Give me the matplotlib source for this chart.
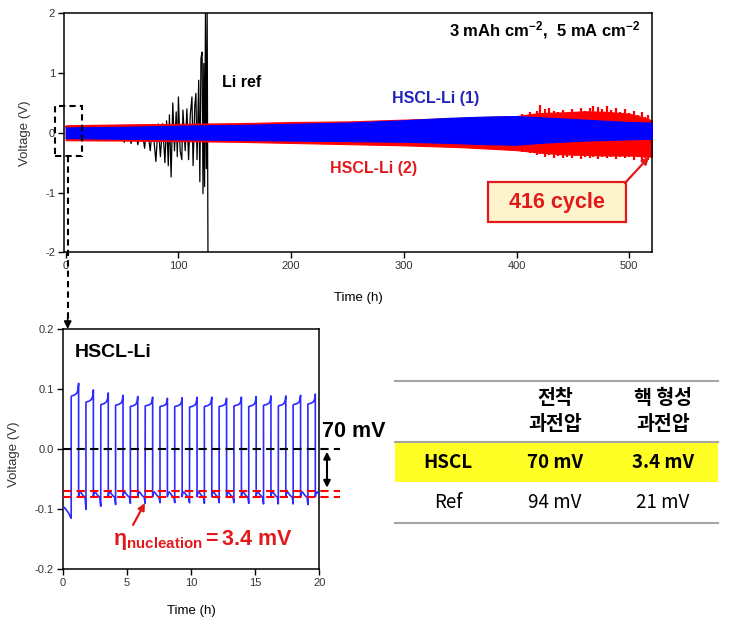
import matplotlib
matplotlib.use("Agg")
import matplotlib.pyplot as plt
from matplotlib.patches import Rectangle
from matplotlib.ticker import FormatStrFormatter

plt.rcParams["font.family"] = ["Liberation Sans", "DejaVu Sans"]
plt.rcParams["axes.unicode_minus"] = False
plt.rcParams["mathtext.fontset"] = "custom"
plt.rcParams["mathtext.rm"] = "Liberation Sans"
plt.rcParams["mathtext.bf"] = "Liberation Sans:bold"
plt.rcParams["mathtext.it"] = "Liberation Sans:italic"

RED = "#ff0000"
BLUE = "#0000ff"
TXT_RED = "#e31a1c"

# ---- long cycling: envelopes of the dense cycling traces ----
blue_t = [0, 50, 100, 150, 200, 250, 300, 340, 370, 400, 420, 440, 460, 480, 500, 520]
blue_up = [0.09, 0.10, 0.12, 0.13, 0.15, 0.17, 0.21, 0.25, 0.27, 0.28, 0.26, 0.24, 0.22, 0.20, 0.18, 0.17]
blue_lo = [-0.09, -0.10, -0.11, -0.12, -0.13, -0.14, -0.15, -0.17, -0.19, -0.20, -0.17, -0.15, -0.13, -0.12, -0.11, -0.10]

red_t = [0, 50, 100, 150, 200, 250, 300, 350, 380, 400, 420, 440, 460, 480, 500, 510, 520]
red_up = [0.125, 0.14, 0.15, 0.16, 0.18, 0.19, 0.22, 0.25, 0.27, 0.28, 0.33, 0.34, 0.36, 0.35, 0.32, 0.27, 0.21]
red_lo = [-0.125, -0.13, -0.14, -0.15, -0.17, -0.19, -0.21, -0.24, -0.27, -0.29, -0.33, -0.36, -0.37, -0.38, -0.38, -0.39, -0.40]

# individual red spikes at the end of the run
spk_t = [405, 412, 418, 421, 425, 429, 433, 437, 441, 445, 449, 453, 457, 461, 465, 468,
         472, 476, 480, 484, 488, 492, 496, 500, 504, 508, 511, 514, 517]
spk_up = [0.32, 0.34, 0.36, 0.46, 0.40, 0.42, 0.36, 0.34, 0.38, 0.33, 0.40, 0.35, 0.41, 0.37, 0.42,
          0.44, 0.43, 0.40, 0.44, 0.38, 0.41, 0.35, 0.40, 0.33, 0.37, 0.30, 0.35, 0.27, 0.30]
spk_lo = [-0.32, -0.34, -0.37, -0.36, -0.40, -0.38, -0.42, -0.39, -0.43, -0.40, -0.42, -0.39, -0.44,
          -0.40, -0.43, -0.41, -0.44, -0.40, -0.43, -0.41, -0.44, -0.40, -0.43, -0.41, -0.45, -0.40,
          -0.46, -0.42, -0.45]

# Li ref trace (peaks)
li_t = [0, 10, 20, 30, 40, 45, 48, 52, 55, 58, 61, 64, 67, 70, 72, 75, 77, 80, 82, 84,
        86, 88, 89.5, 91, 92, 93.5, 95, 96.5, 98, 99, 100, 101.5, 103, 104, 106, 107.5,
        109, 110.5, 112, 113, 114.5, 115.5, 116.5, 118, 119, 120, 121, 121.8, 122.5,
        123.2, 124, 124.8, 125.5, 126.2]
li_v = [0.1, -0.1, 0.1, -0.1, 0.12, -0.13, 0.12, -0.16, 0.12, -0.18, 0.12, -0.2, 0.13, -0.26,
        0.13, -0.3, 0.14, -0.48, 0.15, -0.4, 0.15, -0.5, 0.2, -0.55, 0.3, -0.74, 0.5, -0.3,
        0.35, -0.4, 0.6, -0.3, -0.45, 0.38, -0.3, 0.4, -0.45, 0.3, 0.6, -0.55, 0.45, 0.66,
        -0.45, 0.88, -0.82, 1.25, 1.35, -1.02, 1.16, -0.9, 2.0, -0.6, 2.0, -2.0]

# ---- first 20 h of HSCL-Li ----
cyc_t = [0.66, 1.81, 2.97, 4.12, 5.27, 6.43, 7.58, 8.73, 9.89, 11.04, 12.19, 13.35,
         14.50, 15.65, 16.81, 17.96, 19.11]
up_start = [0.088, 0.078, 0.074, 0.073, 0.071, 0.072, 0.071, 0.071, 0.070, 0.071, 0.071,
            0.072, 0.071, 0.073, 0.072, 0.074, 0.075]
up_end = [0.110, 0.099, 0.094, 0.090, 0.088, 0.087, 0.085, 0.086, 0.087, 0.087, 0.085,
          0.087, 0.088, 0.089, 0.089, 0.090, 0.092]
dn_end = [-0.100, -0.095, -0.092, -0.090, -0.090, -0.089, -0.089, -0.089, -0.090, -0.089,
          -0.089, -0.090, -0.091, -0.091, -0.091, -0.092, -0.088]
first_t = [0.0, 0.15, 0.45, 0.66]
first_v = [-0.100, -0.097, -0.106, -0.115]
up_frac = [0.0, 0.08, 0.4, 0.75, 0.9, 1.0]
up_shape = [0.0, 0.05, 0.1, 0.25, 0.5, 1.0]
dn_frac = [0.0, 0.05, 0.25, 0.6, 0.88]
dn_shape = [-0.079, -0.074, -0.071, -0.077, -0.080]
half = 0.58
period = 1.153

nuc_lines = [-0.069, -0.079]

# table
tab_head1 = ["", "전착", "핵 형성"]
tab_head2 = ["", "과전압", "과전압"]
tab_rows = [["HSCL", "70 mV", "3.4 mV"], ["Ref", "94 mV", "21 mV"]]

fig = plt.figure(figsize=(7.31, 6.32), dpi=100)

# ================= top panel =================
ax1 = fig.add_axes([0.0876, 0.6008, 0.8048, 0.3782])
ax1.plot(li_t, li_v, color="black", lw=0.9, zorder=1)
ax1.fill_between(red_t, red_lo, red_up, color=RED, lw=0.8, zorder=2)
ax1.vlines(spk_t, spk_lo, spk_up, color=RED, lw=1.6, zorder=2)
ax1.fill_between(blue_t, blue_lo, blue_up, color=BLUE, lw=0.8, zorder=3)
ax1.set_xlim(-1.5, 520.5)
ax1.set_ylim(-2, 2)
ax1.set_xticks([0, 100, 200, 300, 400, 500])
ax1.set_yticks([-2, -1, 0, 1, 2])
ax1.set_xlabel("Time (h)", fontsize=9.5)
ax1.set_ylabel("Voltage (V)", fontsize=9.5, color="#333333")
ax1.xaxis.set_label_coords(0.5, -0.165)
ax1.yaxis.set_label_coords(-0.056, 0.5)

ax1.text(138.6, 0.845, "Li ref", fontsize=11.5, fontweight="bold", va="center")
ax1.text(289.5, 0.577, "HSCL-Li (1)", fontsize=11.5, fontweight="bold", color="#2222bb", va="center")
ax1.text(234.4, -0.594, "HSCL-Li (2)", fontsize=11.5, fontweight="bold", color=TXT_RED, va="center")
ax1.text(509.5, 1.72, r"3 mAh cm$^{\mathbf{-2}}$,  5 mA cm$^{\mathbf{-2}}$", fontsize=12,
         fontweight="bold", ha="right", va="center")

ax1.add_patch(Rectangle((0.721, 0.1255), 0.235, 0.1675, transform=ax1.transAxes,
                        facecolor="#fdf3cc", edgecolor=TXT_RED, lw=1.6, zorder=5))
ax1.text(0.8385, 0.209, "416 cycle", transform=ax1.transAxes, fontsize=15.5,
         fontweight="bold", color=TXT_RED, ha="center", va="center", zorder=6)

ax1.add_patch(Rectangle((-9.6, -0.39), 23.7, 0.83, fill=False, edgecolor="black",
                        lw=1.5, ls=(0, (3, 2)), clip_on=False, zorder=6))

# ================= bottom panel =================
ax2 = fig.add_axes([0.0858, 0.0992, 0.351, 0.3797])

wt = list(first_t)
wv = list(first_v)
for k in range(len(cyc_t)):
    t0 = cyc_t[k]
    for f, s in zip(up_frac, up_shape):
        wt.append(t0 + f * half)
        wv.append(up_start[k] + (up_end[k] - up_start[k]) * s)
    t1 = t0 + half
    low_len = period - half
    for f, v in zip(dn_frac, dn_shape):
        wt.append(t1 + f * low_len)
        wv.append(v)
    wt.append(t1 + low_len)
    wv.append(dn_end[k])

ax2.plot(wt, wv, color="#2b2bff", lw=1.2, zorder=3)
ax2.plot([0, 21.6], [0, 0], color="black", lw=1.5, ls=(0, (4, 2.5)), clip_on=False, zorder=4)
for y in nuc_lines:
    ax2.plot([0, 21.6], [y, y], color=RED, lw=1.5, ls=(0, (4, 2.5)), clip_on=False, zorder=4)

ax2.set_xlim(0, 20)
ax2.set_ylim(-0.2, 0.2)
ax2.set_xticks([0, 5, 10, 15, 20])
ax2.set_yticks([-0.2, -0.1, 0.0, 0.1, 0.2])
ax2.yaxis.set_major_formatter(FormatStrFormatter("%.1f"))
ax2.set_xlabel("Time (h)", fontsize=9.5)
ax2.set_ylabel("Voltage (V)", fontsize=9.5, color="#333333")
ax2.xaxis.set_label_coords(0.5, -0.15)
ax2.yaxis.set_label_coords(-0.165, 0.48)

ax2.text(0.96, 0.162, "HSCL-Li", fontsize=14, fontweight="bold", va="center")
ax2.text(20.2, 0.03, "70 mV", fontsize=15.5, fontweight="bold", va="center", clip_on=False)
ax2.annotate("", xy=(20.6, -0.064), xytext=(20.6, -0.004), annotation_clip=False,
             arrowprops=dict(arrowstyle="<|-|>", color="black", lw=1.5, mutation_scale=10,
                             shrinkA=0, shrinkB=0))
ax2.annotate("", xy=(6.41, -0.0895), xytext=(5.48, -0.126),
             arrowprops=dict(arrowstyle="-|>", color=TXT_RED, lw=1.6, mutation_scale=10,
                             shrinkA=0, shrinkB=0))
ax2.text(3.92, -0.16, r"$\mathbf{η_{nucleation}=3.4\ mV}$", fontsize=15.5,
         color=TXT_RED, va="baseline")

for ax in (ax1, ax2):
    ax.tick_params(direction="out", length=4, width=1, labelsize=8, labelcolor="#333333", pad=2.5)
    for sp in ax.spines.values():
        sp.set_linewidth(1.1)

# ================= overlay (pixel coordinates) =================
ax0 = fig.add_axes([0, 0, 1, 1], facecolor="none", zorder=10)
ax0.set_xlim(0, 731)
ax0.set_ylim(632, 0)
ax0.axis("off")

ax0.plot([67.7, 67.7], [156, 320], color="black", lw=1.5, ls=(0, (3, 2)))
ax0.annotate("", xy=(67.7, 329), xytext=(67.7, 318),
             arrowprops=dict(arrowstyle="-|>", color="black", lw=1.2, mutation_scale=11,
                             shrinkA=0, shrinkB=0))
ax0.annotate("", xy=(649, 157), xytext=(625, 183),
             arrowprops=dict(arrowstyle="-|>", color=TXT_RED, lw=1.6, mutation_scale=10,
                             shrinkA=0, shrinkB=0))

# table
kfont = ["Noto Sans CJK KR", "DejaVu Sans"]
col_x = [448, 555, 663]
ax0.add_patch(Rectangle((395, 443), 323, 39, facecolor="#ffff26", edgecolor="none"))
for y in [381, 442, 523]:
    ax0.plot([395, 718], [y, y], color="#a6a6a6", lw=1.5)
for x, h1, h2 in zip(col_x, tab_head1, tab_head2):
    ax0.text(x, 398, h1, fontsize=14, fontweight="bold", ha="center", va="center", family=kfont)
    ax0.text(x, 425, h2, fontsize=14, fontweight="bold", ha="center", va="center", family=kfont)
row_y = [463, 502]
for r, y in enumerate(row_y):
    for x, cell in zip(col_x, tab_rows[r]):
        ax0.text(x, y, cell, fontsize=13.5, fontweight="bold" if r == 0 else "normal",
                 ha="center", va="center", family=kfont)

fig.savefig("out.png", dpi=100)
